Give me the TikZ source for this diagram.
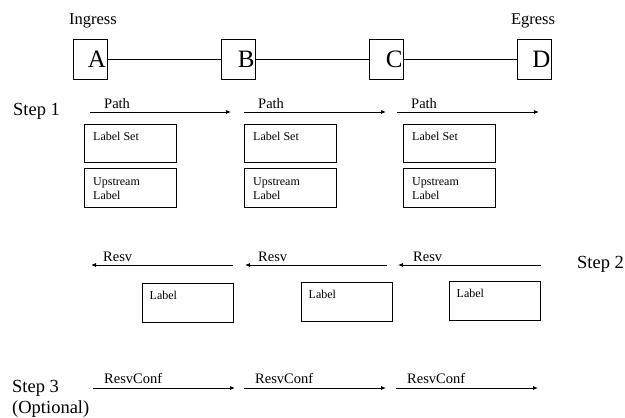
\documentclass[tikz,border=0pt]{standalone}
\usepackage{fontspec}
\setmainfont{Liberation Serif}
\usetikzlibrary{arrows.meta}
\begin{document}
\begin{tikzpicture}[x=1pt,y=-1pt]
        \tikzstyle{every node}=[inner sep=0pt]
        \tikzstyle{router}=[draw,line width=0.9pt,minimum width=34pt,minimum height=40pt,text width=32pt,align=right,font=\fontsize{25}{25}\selectfont]
        \tikzstyle{lbox}=[draw,line width=0.9pt,anchor=north west,minimum width=92pt,minimum height=38pt]
        \tikzstyle{small}=[anchor=base west,align=left,font=\fontsize{12}{14}\selectfont]
        \tikzstyle{msg}=[anchor=base west,font=\fontsize{14.5}{16}\selectfont]
        \tikzstyle{steptext}=[anchor=base west,font=\fontsize{18.5}{21}\selectfont]
        \tikzstyle{flow}=[line width=0.8pt,-{Latex[length=5pt,width=4pt]}]
        \useasboundingbox (0,0) rectangle (625,418);

        % the four nodes on the path
        \node[router] (A) at (90,59) {A};
        \node[router] (B) at (238.5,59) {B};
        \node[router] (C) at (386.5,59) {C};
        \node[router] (D) at (534.5,59) {D};
        \draw[line width=0.8pt] (A) -- (B) -- (C) -- (D);
        \node[anchor=base,font=\fontsize{16.5}{18}\selectfont] (ingress) at (93,24.3) {Ingress};
        \node[anchor=base,font=\fontsize{16.5}{18}\selectfont] (egress) at (533,24.3) {Egress};

        % step 1
        \node[steptext] (step1) at (13,115) {Step 1};
        \foreach \i/\s/\e/\b in {1/90/231/84, 2/244/386/244, 3/397/539/403}{
          \coordinate (ps\i) at (\s,112);
          \coordinate (pe\i) at (\e,112);
          \draw[flow] (ps\i) -- (pe\i);
          \node[msg] (path\i) at (\s+14,108.5) {Path};
          \node[lbox] (set\i) at (\b,124) {};
          \node[lbox,minimum height=39pt] (up\i) at (\b,168) {};
          \node[small] (settext\i) at (\b+9,140) {Label Set};
          \node[small] (uptext\i) at (\b+9,199) {Upstream\\Label};
        }

        % step 2
        \node[steptext] (step2) at (577,268) {Step 2};
        \foreach \i/\s/\e/\l/\b/\t in {1/233/91/103/142/283, 2/387/245/258/301/282, 3/541/398/413/449/281}{
          \coordinate (rs\i) at (\s,265);
          \coordinate (re\i) at (\e,265);
          \draw[flow] (rs\i) -- (re\i);
          \node[msg] (resv\i) at (\l,261.7) {Resv};
          \node[lbox,minimum width=91pt,minimum height=39pt] (lab\i) at (\b,\t) {};
          \node[small] (labtext\i) at (\b+7.5,\t+16) {Label};
        }

        % step 3
        \node[steptext] (step3) at (12,392) {Step 3};
        \node[steptext] (optional) at (12,413) {(Optional)};
        \foreach \i/\s/\e in {1/93/235, 2/244/386, 3/396/538}{
          \coordinate (cs\i) at (\s,388);
          \coordinate (ce\i) at (\e,388);
          \draw[flow] (cs\i) -- (ce\i);
          \node[msg] (conf\i) at (\s+11,383) {ResvConf};
        }
      \end{tikzpicture}
\end{document}
